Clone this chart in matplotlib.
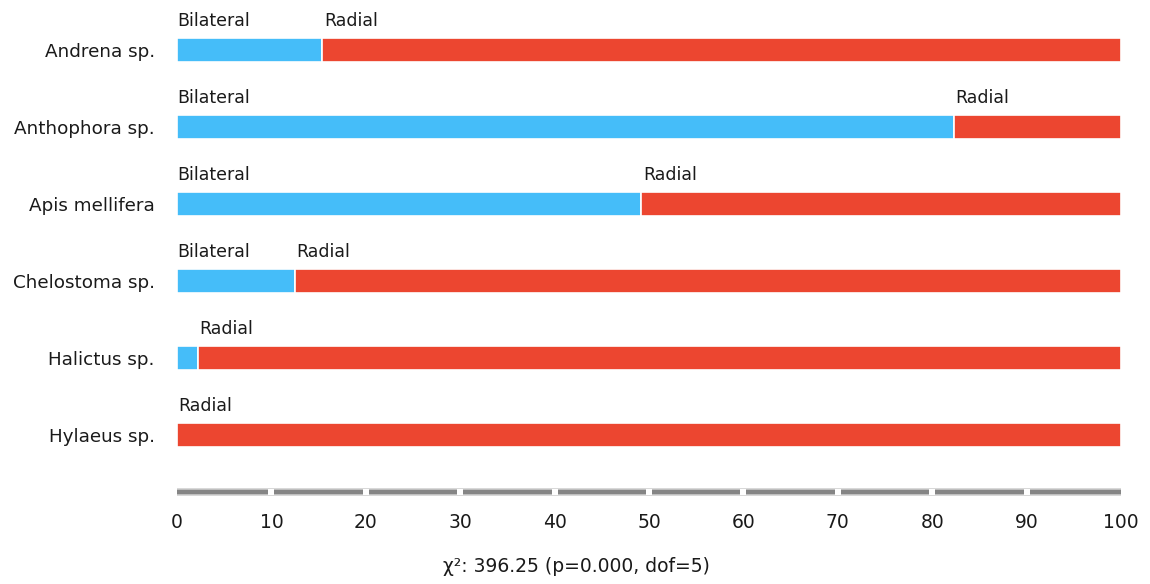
import matplotlib
matplotlib.use("Agg")
import matplotlib.pyplot as plt
import numpy as np

species = ["Andrena sp.", "Anthophora sp.", "Apis mellifera", "Chelostoma sp.", "Halictus sp.", "Hylaeus sp."]
bilateral = [15.4, 82.3, 49.2, 12.5, 2.2, 0.0]
radial = [100 - b for b in bilateral]
xticks = [0, 10, 20, 30, 40, 50, 60, 70, 80, 90, 100]
xlabel_text = "χ²: 396.25 (p=0.000, dof=5)"

BLUE = "#45BDF9"
RED = "#EC4630"
TXT = "#1a1a1a"
plt.rcParams['font.family'] = ['DejaVu Sans']

W, H = 1150, 584
fig = plt.figure(figsize=(W / 100, H / 100), dpi=100)
ax_left, ax_right = 177 / W, 1121 / W
ax_top, ax_bottom = 0 / H, 492 / H
ax = fig.add_axes([ax_left, 1 - ax_bottom, ax_right - ax_left, ax_bottom - ax_top])

n = len(species)
ypos = np.arange(n)
bh = 24 / 77
ax.barh(ypos, bilateral, height=bh, color=BLUE, edgecolor="white", linewidth=1.2)
ax.barh(ypos, radial, left=bilateral, height=bh, color=RED, edgecolor="white", linewidth=1.2)

for i in range(n):
    yb = i - 24 / 77
    if bilateral[i] >= 8:
        ax.text(0, yb, "Bilateral", ha="left", va="baseline", fontsize=12.5, color=TXT)
    if radial[i] > 0:
        ax.text(bilateral[i] + 0.15, yb, "Radial", ha="left", va="baseline", fontsize=12.5, color=TXT)

ax.set_xlim(0, 100)
ax.set_ylim(5.74, -0.65)
ax.set_yticks(ypos)
ax.set_yticklabels(species, fontsize=13.2, color=TXT)
ax.set_xticks(xticks)
ax.set_xticklabels([str(t) for t in xticks], fontsize=13.5, color=TXT)
ax.tick_params(axis="both", length=0)
ax.tick_params(axis="y", pad=16)
ax.tick_params(axis="x", pad=15)
for s in ax.spines.values():
    s.set_visible(False)

# custom axis line
ybase = 5.74
ax.plot([0, 100], [ybase, ybase], color="#d0d0d0", lw=5.5, clip_on=False, solid_capstyle="butt", zorder=3)
ax.plot([0, 100], [ybase, ybase], color="#858585", lw=3.2, clip_on=False, solid_capstyle="butt", zorder=4)
for t in xticks[1:-1]:
    ax.plot([t, t], [ybase, ybase], marker="s", markersize=4, color="white", markeredgewidth=0, clip_on=False, zorder=5)

fig.text(576 / W, 1 - 567 / H, xlabel_text, ha="center", va="center", fontsize=13.5, color=TXT)

fig.savefig("out.png", dpi=100, facecolor="white")
